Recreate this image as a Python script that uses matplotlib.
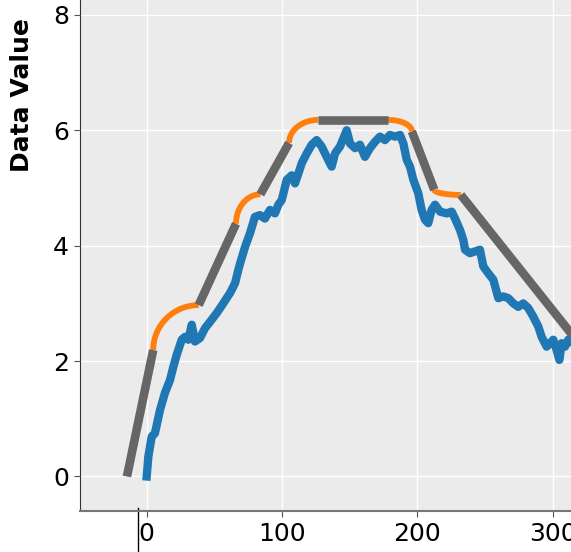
import numpy as np
import matplotlib.pyplot as plt

# Measured series
x_data = [0, 1.2, 3.7, 6.1, 9.8, 13.5, 17.2, 19.7, 22.2, 25.9,
          28.3, 30.8, 33.3, 35.7, 39.4, 43.1, 46.8, 51.7, 56.6, 61.6,
          65.3, 67.7, 69, 72.7, 76.4, 80, 83.7, 87.4, 91.1, 94.8,
          97.3, 99.8, 103.5, 107.2, 109.6, 112.1, 114.6, 118.3, 122, 125.6,
          129.3, 133, 136.7, 139.2, 142.9, 147.8, 150.3, 154, 157.6, 161.3,
          165, 168.7, 172.4, 176.1, 179.8, 183.5, 187.2, 189.7, 192.2, 194.6,
          197.1, 200.7, 203.2, 205.7, 208.1, 210.6, 213.1, 216.8, 221.7, 225.4,
          227.9, 231.6, 234, 235.3, 238.9, 242.6, 246.3, 248.8, 252.5, 256.2,
          259.9, 263.6, 267.3, 271, 274.6, 278.3, 282, 285.7, 289.4, 291.9,
          295.6, 298.1, 300.5, 303, 305, 306.7, 309.2, 311.6, 313.6, 316]
y_data = [0, 0.34, 0.69, 0.75, 1.15, 1.45, 1.67, 1.90, 2.11, 2.37,
          2.42, 2.37, 2.63, 2.34, 2.40, 2.57, 2.68, 2.83, 3.0, 3.18,
          3.35, 3.58, 3.69, 3.98, 4.22, 4.50, 4.53, 4.47, 4.62, 4.56,
          4.71, 4.79, 5.14, 5.22, 5.08, 5.25, 5.43, 5.60, 5.75, 5.83,
          5.72, 5.54, 5.37, 5.60, 5.72, 6.0, 5.77, 5.69, 5.75, 5.54,
          5.69, 5.80, 5.89, 5.83, 5.92, 5.89, 5.92, 5.77, 5.49, 5.37,
          5.14, 4.91, 4.62, 4.45, 4.39, 4.62, 4.71, 4.59, 4.56, 4.59,
          4.47, 4.27, 4.10, 3.93, 3.87, 3.90, 3.93, 3.64, 3.52, 3.41,
          3.09, 3.12, 3.09, 3.0, 2.94, 3.0, 2.92, 2.77, 2.60, 2.42,
          2.25, 2.31, 2.37, 2.19, 2.02, 2.31, 2.25, 2.37, 2.34, 2.30]

# Linear pieces of the fit: start and end points
seg_x0 = [-14.6, 38.4, 84.0, 126.8, 196.0, 232.2]
seg_y0 = [0.0, 2.97, 4.89, 6.18, 5.98, 4.88]
seg_x1 = [4.8, 66.0, 105.2, 178.3, 212.5, 316.0]
seg_y1 = [2.19, 4.38, 5.78, 6.18, 4.97, 2.41]
# connector style between consecutive pieces: 'vh' leaves vertically, 'hv' horizontally
joins = ['vh', 'vh', 'vh', 'hv', 'vh']

x_ticks = [0, 100, 200, 300]
y_ticks = [0, 2, 4, 6, 8]

fig = plt.figure(figsize=(5.71, 5.52), dpi=100)
ax = fig.add_axes([0.1401, 0.0743, 0.8599, 0.9257])
ax.set_facecolor('#ebebeb')
ax.grid(True, color='white', linewidth=1.0)
ax.set_axisbelow(True)

ax.plot(x_data, y_data, color='#1f77b4', linewidth=6, solid_joinstyle='round')

# rounded transitions between the straight pieces
t = np.linspace(0, np.pi / 2, 40)
for i, kind in enumerate(joins):
    xa, ya = seg_x1[i], seg_y1[i]
    xb, yb = seg_x0[i + 1], seg_y0[i + 1]
    if kind == 'vh':
        cx = xa + (xb - xa) * (1 - np.cos(t))
        cy = ya + (yb - ya) * np.sin(t)
    else:
        cx = xa + (xb - xa) * np.sin(t)
        cy = ya + (yb - ya) * (1 - np.cos(t))
    ax.plot(cx, cy, color='#ff7f0e', linewidth=4.2, solid_capstyle='butt')

for x0, y0, x1, y1 in zip(seg_x0, seg_y0, seg_x1, seg_y1):
    ax.plot([x0, x1], [y0, y1], color='#666666', linewidth=6.2, solid_capstyle='butt')

# marker line hanging below the x axis
ax.plot([-6.4, -6.4], [-0.54, -1.4], color='black', linewidth=1.0, clip_on=False)

ax.set_xlim(-49.3, 313.6)
ax.set_ylim(-0.598, 8.258)
ax.set_xticks(x_ticks)
ax.set_yticks(y_ticks)
ax.tick_params(labelsize=18, length=4, color='#555555', pad=4)

for side in ['top', 'right']:
    ax.spines[side].set_visible(False)
ax.spines['left'].set_color('#333333')
ax.spines['bottom'].set_color('#777777')
ax.spines['bottom'].set_linewidth(1.5)

ax.set_ylabel('Data Value', fontsize=18, fontweight='bold')
ax.yaxis.set_label_coords(-0.093, 0.814)

fig.savefig('out.png', dpi=100)
